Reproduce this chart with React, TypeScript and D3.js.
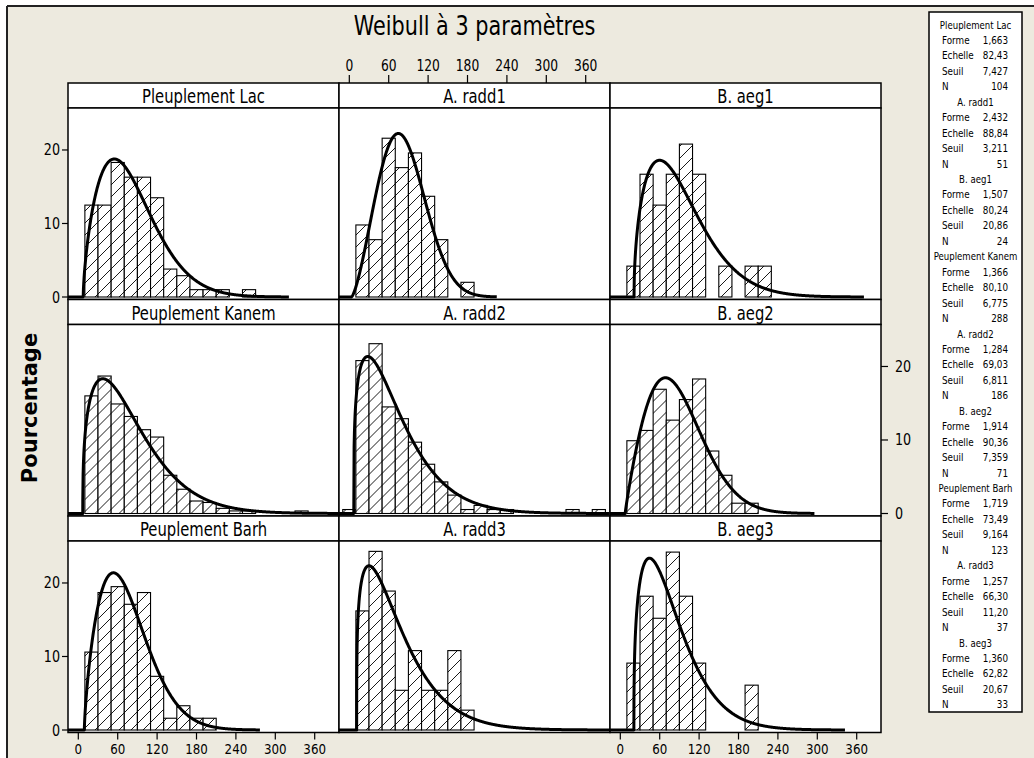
import React from 'react';
import * as d3 from 'd3';

// panel order: row by row, left to right
const panelNames = [
  'Pleuplement Lac', 'A. radd1', 'B. aeg1',
  'Peuplement Kanem', 'A. radd2', 'B. aeg2',
  'Peuplement Barh', 'A. radd3', 'B. aeg3',
];
const forme = [1.663, 2.432, 1.507, 1.366, 1.284, 1.914, 1.719, 1.257, 1.36];
const echelle = [82.43, 88.84, 80.24, 80.1, 69.03, 90.36, 73.49, 66.3, 62.82];
const seuil = [7.427, 3.211, 20.86, 6.775, 6.811, 7.359, 9.164, 11.2, 20.67];
const effectif = [104, 51, 24, 288, 186, 71, 123, 37, 33];

// histogram bins: width 20, centres 0..380
const binWidth = 20;
const binCenters = d3.range(0, 400, binWidth);

// percentages per bin
const lac = [0, 12.5, 12.5, 18.3, 16.3, 16.3, 13.5, 3.8, 2.9, 1.0, 1.0, 1.0, 0, 1.0, 0, 0, 0, 0, 0, 0];
const radd1 = [0, 9.8, 7.8, 21.6, 17.6, 19.6, 13.7, 7.8, 0, 2.0, 0, 0, 0, 0, 0, 0, 0, 0, 0, 0];
const aeg1 = [0, 4.2, 16.7, 12.5, 16.7, 20.8, 16.7, 0, 4.2, 0, 4.2, 4.2, 0, 0, 0, 0, 0, 0, 0, 0];
const kanem = [0, 16.0, 18.7, 14.9, 13.2, 11.4, 10.4, 5.2, 3.3, 1.7, 1.5, 0.7, 0.35, 0.35, 0, 0, 0, 0.35, 0, 0];
const radd2 = [0.54, 20.8, 23.1, 14.5, 12.9, 9.7, 6.7, 4.3, 2.5, 0.54, 1.1, 0.54, 0.54, 0, 0, 0, 0, 0.54, 0, 0.54];
const aeg2 = [0, 9.9, 11.3, 16.9, 12.7, 15.5, 18.3, 8.5, 5.2, 1.4, 1.4, 0, 0, 0, 0, 0, 0, 0, 0, 0];
const barh = [0, 10.6, 18.7, 19.5, 17.1, 18.7, 7.3, 1.6, 3.3, 1.6, 1.6, 0, 0, 0, 0, 0, 0, 0, 0, 0];
const radd3 = [0, 16.2, 24.3, 18.9, 5.4, 10.8, 5.4, 5.4, 10.8, 2.7, 0, 0, 0, 0, 0, 0, 0, 0, 0, 0];
const aeg3 = [0, 9.1, 18.2, 15.2, 24.2, 18.2, 9.1, 0, 0, 0, 6.1, 0, 0, 0, 0, 0, 0, 0, 0, 0];
const histo = [lac, radd1, aeg1, kanem, radd2, aeg2, barh, radd3, aeg3];

const xTicks = [0, 60, 120, 180, 240, 300, 360];
const yTicks = [0, 10, 20];

const W = 1034;
const H = 758;
const colX = [68, 339, 610];
const rowY = [83, 299.5, 516];
const panelW = 271;
const panelH = 216.5;
const stripH = 25;
const plotH = panelH - stripH;

const font = 'DejaVu Sans, Verdana, sans-serif';
const frLocale = d3.formatLocale({ decimal: ',', thousands: ' ', grouping: [3], currency: ['', ''] });
const fmt = frLocale.format('.4r');

const xScale = d3.scaleLinear().domain([-15.7, 397]).range([0, panelW]);
const yScale = d3.scaleLinear().domain([-0.34, 25.71]).range([plotH, 0]);

function weibullPct(x: number, k: number, lam: number, th: number) {
  if (x <= th) return 0;
  const u = (x - th) / lam;
  return 100 * binWidth * (k / lam) * Math.pow(u, k - 1) * Math.exp(-Math.pow(u, k));
}

function Txt(props: any) {
  const { x, y, size, anchor = 'start', sx = 0.8, weight = 'normal', rotate = 0, children } = props;
  return (
    <text
      transform={`translate(${x},${y}) rotate(${rotate}) scale(${sx},1)`}
      fontSize={size}
      fontFamily={font}
      fontWeight={weight}
      textAnchor={anchor}
      fill="#000"
    >
      {children}
    </text>
  );
}

function Panel({ idx }: { idx: number }) {
  const col = idx % 3;
  const row = Math.floor(idx / 3);
  const k = forme[idx];
  const lam = echelle[idx];
  const th = seuil[idx];
  const [xMin, xMax] = xScale.domain();
  const xEnd = Math.min(xMax, th + lam * Math.pow(-Math.log(1e-4), 1 / k));
  const xs = d3.range(xMin, xEnd, 0.5).concat([th, xEnd]).sort((a, b) => a - b);
  const line = d3
    .line<number>()
    .x((d) => xScale(d))
    .y((d) => yScale(weibullPct(d, k, lam, th)));

  const bars = histo[idx]
    .map((v, i) => ({ c: binCenters[i], v }))
    .filter((d) => d.v > 0);

  return (
    <g transform={`translate(${colX[col]},${rowY[row]})`}>
      <rect x={0} y={0} width={panelW} height={stripH} fill="#fff" stroke="#000" strokeWidth={1.5} />
      <Txt x={panelW / 2} y={20} size={20} sx={0.74} anchor="middle">{panelNames[idx]}</Txt>
      <g transform={`translate(0,${stripH})`}>
        <rect x={0} y={0} width={panelW} height={plotH} fill="#fff" stroke="#000" strokeWidth={1.5} />
        {bars.map((d, i) => (
          <rect
            key={i}
            x={xScale(d.c - binWidth / 2)}
            y={yScale(d.v)}
            width={xScale(d.c + binWidth / 2) - xScale(d.c - binWidth / 2)}
            height={yScale(0) - yScale(d.v)}
            fill="url(#hatch)"
            stroke="#000"
            strokeWidth={1.1}
          />
        ))}
        <path d={line(xs) || ''} fill="none" stroke="#000" strokeWidth={3} strokeLinejoin="round" />
      </g>
    </g>
  );
}

export default function App() {
  const legendX = 929;
  const legendY = 12;
  const legendW = 93;
  const legendH = 700;
  const lineStep = 15.45;
  const legendLines: { title?: string; label?: string; value?: string }[] = [];
  panelNames.forEach((name, i) => {
    legendLines.push({ title: name });
    legendLines.push({ label: 'Forme', value: fmt(forme[i]) });
    legendLines.push({ label: 'Echelle', value: fmt(echelle[i]) });
    legendLines.push({ label: 'Seuil', value: fmt(seuil[i]) });
    legendLines.push({ label: 'N', value: String(effectif[i]) });
  });

  const yAxisLeftRows = [0, 2];
  const bottomCols = [0, 2];

  return (
    <svg
      width={W}
      height={H}
      style={{ position: 'absolute', left: 0, top: 0, display: 'block' }}
    >
      <defs>
        <pattern id="hatch" patternUnits="userSpaceOnUse" width={12} height={12}>
          <rect width={12} height={12} fill="#fff" />
          <path d="M-1,1 L1,-1 M0,12 L12,0 M11,13 L13,11" stroke="#000" strokeWidth={0.9} />
        </pattern>
      </defs>
      <rect x={0} y={0} width={W} height={H} fill="#fff" />
      <rect x={7} y={6} width={W} height={H} fill="#EDEADF" />
      <line x1={7} y1={6} x2={W} y2={6} stroke="#222" strokeWidth={2} />
      <line x1={7} y1={6} x2={7} y2={H} stroke="#222" strokeWidth={2} />

      <Txt x={474.5} y={35} size={27} sx={0.77} anchor="middle">Weibull à 3 paramètres</Txt>
      <Txt x={37} y={408} size={21} sx={1} weight="bold" anchor="middle" rotate={-90}>Pourcentage</Txt>

      {panelNames.map((_, i) => (
        <Panel key={i} idx={i} />
      ))}

      {/* left y axes (rows 1 and 3) */}
      {yAxisLeftRows.map((r) => (
        <g key={`yl${r}`} transform={`translate(${colX[0]},${rowY[r] + stripH})`}>
          {yTicks.map((t) => (
            <g key={t} transform={`translate(0,${yScale(t)})`}>
              <line x1={-6} x2={0} stroke="#000" strokeWidth={1.2} />
              <Txt x={-8} y={5.5} size={15} sx={0.85} anchor="end">{t}</Txt>
            </g>
          ))}
        </g>
      ))}
      {/* right y axis (row 2) */}
      <g transform={`translate(${colX[2] + panelW},${rowY[1] + stripH})`}>
        {yTicks.map((t) => (
          <g key={t} transform={`translate(0,${yScale(t)})`}>
            <line x1={0} x2={7} stroke="#000" strokeWidth={1.2} />
            <Txt x={14} y={5.5} size={15} sx={0.85} anchor="start">{t}</Txt>
          </g>
        ))}
      </g>
      {/* top x axis (middle column) */}
      <g transform={`translate(${colX[1]},${rowY[0]})`}>
        {xTicks.map((t) => (
          <g key={t} transform={`translate(${xScale(t)},0)`}>
            <line y1={-8} y2={0} stroke="#000" strokeWidth={1.2} />
            <Txt x={0} y={-12} size={15} sx={0.82} anchor="middle">{t}</Txt>
          </g>
        ))}
      </g>
      {/* bottom x axes */}
      {bottomCols.map((c) => (
        <g key={`xb${c}`} transform={`translate(${colX[c]},${rowY[2] + panelH})`}>
          {xTicks.map((t) => (
            <g key={t} transform={`translate(${xScale(t)},0)`}>
              <line y1={0} y2={7} stroke="#000" strokeWidth={1.2} />
              <Txt x={0} y={21.5} size={14.5} sx={0.82} anchor="middle">{t}</Txt>
            </g>
          ))}
        </g>
      ))}

      {/* legend table */}
      <rect x={legendX} y={legendY} width={legendW} height={legendH} fill="#fff" stroke="#000" strokeWidth={1.5} />
      {legendLines.map((l, i) => {
        const y = 25 + i * lineStep + 3.5;
        if (l.title) {
          return (
            <Txt key={i} x={legendX + legendW / 2} y={y} size={11} sx={0.78} anchor="middle">{l.title}</Txt>
          );
        }
        return (
          <g key={i}>
            <Txt x={942} y={y} size={11} sx={0.8}>{l.label}</Txt>
            <Txt x={1008} y={y} size={11} sx={0.8} anchor="end">{l.value}</Txt>
          </g>
        );
      })}
    </svg>
  );
}
